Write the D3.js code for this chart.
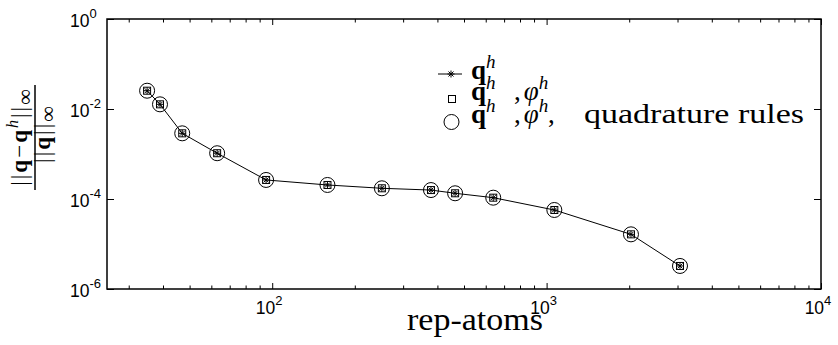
<!DOCTYPE html>
<html>
<head>
<meta charset="utf-8">
<script src="https://cdn.jsdelivr.net/npm/d3@7"></script>
<style>
body { margin: 0; background: #fff; }
</style>
</head>
<body>
<script>
// size variables
var width = 838, height = 345;
var plotL = 107, plotR = 821, plotT = 19, plotB = 289;

// data (the three series lie on top of each other)
var repAtoms = [35, 39, 47, 63, 95, 159, 251, 379, 464, 639, 1067, 2030, 3063];
var errQh      = [2.55e-2, 1.27e-2, 2.88e-3, 1.04e-3, 2.65e-4, 2.05e-4, 1.73e-4, 1.58e-4, 1.34e-4, 1.07e-4, 5.7e-5, 1.64e-5, 3.25e-6];
var errQhPhi   = [2.55e-2, 1.27e-2, 2.88e-3, 1.04e-3, 2.65e-4, 2.05e-4, 1.73e-4, 1.58e-4, 1.34e-4, 1.07e-4, 5.7e-5, 1.64e-5, 3.25e-6];
var errQuadRul = [2.55e-2, 1.27e-2, 2.88e-3, 1.04e-3, 2.65e-4, 2.05e-4, 1.73e-4, 1.58e-4, 1.34e-4, 1.07e-4, 5.7e-5, 1.64e-5, 3.25e-6];

// tick labels (exponents of 10)
var xTickExp = [2, 3, 4];
var yTickExp = [0, -2, -4, -6];

var serif = "'Liberation Serif', 'Times New Roman', Times, serif";
var sans = "'Liberation Sans', Arial, Helvetica, sans-serif";

// setup svg
var svg = d3.select('body').append('svg')
    .attr('width', width).attr('height', height)
    .style('background', '#fff');

var x = d3.scaleLog().domain([25, 10000]).range([plotL, plotR]);
var y = d3.scaleLog().domain([1e-6, 1]).range([plotB, plotT]);

// minor ticks for the log x axis
var xMinor = [];
[10, 100, 1000].forEach(function(dec) {
    for (var k = 2; k <= 9; k++) {
        var v = k * dec;
        if (v > 25 && v < 10000) xMinor.push(v);
    }
});
var xMajor = xTickExp.map(function(e) { return Math.pow(10, e); });
var yMajor = yTickExp.map(function(e) { return Math.pow(10, e); });

function tickAxis(axis, pos, vals, len) {
    var g = svg.append('g').attr('transform', pos)
        .call(axis.tickValues(vals).tickSizeInner(-len).tickSizeOuter(0).tickFormat(''));
    g.select('.domain').remove();
    g.selectAll('line').attr('stroke', '#000').attr('stroke-width', 1);
    return g;
}
tickAxis(d3.axisBottom(x), 'translate(0,' + plotB + ')', xMinor, 3.5);
tickAxis(d3.axisBottom(x), 'translate(0,' + plotB + ')', xMajor, 6);
tickAxis(d3.axisTop(x), 'translate(0,' + plotT + ')', xMinor, 3.5);
tickAxis(d3.axisTop(x), 'translate(0,' + plotT + ')', xMajor, 6);
tickAxis(d3.axisLeft(y), 'translate(' + plotL + ',0)', yMajor, 7);
tickAxis(d3.axisRight(y), 'translate(' + plotR + ',0)', yMajor, 7);

// box
svg.append('rect')
    .attr('x', plotL).attr('y', plotT)
    .attr('width', plotR - plotL).attr('height', plotB - plotT)
    .attr('fill', 'none').attr('stroke', '#000').attr('stroke-width', 1.5);

// tick labels
xTickExp.forEach(function(e) {
    var t = svg.append('text')
        .attr('x', x(Math.pow(10, e)) - 3).attr('y', plotB + 25)
        .attr('text-anchor', 'middle')
        .style('font-family', sans).style('font-size', '17.5px');
    t.append('tspan').text('10');
    t.append('tspan').attr('dy', -9).style('font-size', '13px').text(e);
});
yTickExp.forEach(function(e) {
    var t = svg.append('text')
        .attr('x', 70).attr('y', y(Math.pow(10, e)) + 7.5)
        .style('font-family', sans).style('font-size', '17.5px');
    t.append('tspan').text('10');
    t.append('tspan').attr('dy', -9).style('font-size', '13px').text(e < 0 ? '-' + (-e) : e);
});

// x label
svg.append('text')
    .attr('x', 475).attr('y', 330)
    .attr('text-anchor', 'middle')
    .attr('textLength', 136).attr('lengthAdjust', 'spacingAndGlyphs')
    .style('font-family', serif).style('font-size', '31px')
    .text('rep-atoms');

// y label: fraction, rotated
var yl = svg.append('g').attr('transform', 'translate(35,137) rotate(-90)');
var num = yl.append('text').attr('x', 0.5).attr('y', -8)
    .attr('text-anchor', 'middle')
    .style('font-family', serif).style('font-size', '23px');
num.append('tspan').text('||');
num.append('tspan').style('font-weight', 'bold').text('q');
num.append('tspan').text('\u2212');
num.append('tspan').style('font-weight', 'bold').text('q');
num.append('tspan').attr('dy', -9).style('font-style', 'italic').style('font-size', '16px').text('h');
num.append('tspan').attr('dy', 9).text('||');
num.append('tspan').attr('dy', 5).style('font-size', '22px').text('\u221e');
num.attr('letter-spacing', 2);
yl.append('line').attr('x1', -53).attr('x2', 52).attr('y1', 0).attr('y2', 0)
    .attr('stroke', '#000').attr('stroke-width', 1.5);
var den = yl.append('text').attr('x', 3.5).attr('y', 15)
    .attr('text-anchor', 'middle')
    .style('font-family', serif).style('font-size', '23px')
    .attr('letter-spacing', 2);
den.append('tspan').text('||');
den.append('tspan').style('font-weight', 'bold').text('q');
den.append('tspan').text('||');
den.append('tspan').attr('dy', 5).style('font-size', '22px').text('\u221e');

// markers
var star = 'M-3.5,0H3.5M0,-3.5V3.5M-2.5,-2.5L2.5,2.5M-2.5,2.5L2.5,-2.5';

var line = d3.line()
    .x(function(d, i) { return x(repAtoms[i]); })
    .y(function(d) { return y(d); });

svg.append('path').datum(errQh)
    .attr('d', line)
    .attr('fill', 'none').attr('stroke', '#000').attr('stroke-width', 1);

svg.selectAll('.star').data(errQh).join('path')
    .attr('class', 'star')
    .attr('transform', function(d, i) { return 'translate(' + x(repAtoms[i]) + ',' + y(d) + ')'; })
    .attr('d', star).attr('stroke', '#000').attr('stroke-width', 1).attr('fill', 'none');

svg.selectAll('.sq').data(errQhPhi).join('rect')
    .attr('class', 'sq')
    .attr('x', function(d, i) { return x(repAtoms[i]) - 3.5; })
    .attr('y', function(d) { return y(d) - 3.5; })
    .attr('width', 7).attr('height', 7)
    .attr('fill', 'none').attr('stroke', '#000').attr('stroke-width', 1);

svg.selectAll('.circ').data(errQuadRul).join('circle')
    .attr('class', 'circ')
    .attr('cx', function(d, i) { return x(repAtoms[i]); })
    .attr('cy', function(d) { return y(d); })
    .attr('r', 7.5)
    .attr('fill', 'none').attr('stroke', '#000').attr('stroke-width', 1);

// legend
var lg = svg.append('g');
lg.append('line').attr('x1', 438).attr('x2', 462).attr('y1', 74).attr('y2', 74)
    .attr('stroke', '#000').attr('stroke-width', 1);
lg.append('path').attr('transform', 'translate(451,74)').attr('d', star)
    .attr('stroke', '#000').attr('fill', 'none');
lg.append('rect').attr('x', 448.5).attr('y', 95.5).attr('width', 7).attr('height', 7)
    .attr('fill', 'none').attr('stroke', '#000');
lg.append('circle').attr('cx', 451.5).attr('cy', 122).attr('r', 7.5)
    .attr('fill', 'none').attr('stroke', '#000');

function qh(yb) {
    var t = lg.append('text').attr('x', 471).attr('y', yb)
        .style('font-family', serif).style('font-size', '27px');
    t.append('tspan').style('font-weight', 'bold').text('q');
    t.append('tspan').attr('dy', -11).style('font-style', 'italic').style('font-size', '19px').text('h');
}
function phih(yb) {
    var t = lg.append('text').attr('x', 514).attr('y', yb)
        .style('font-family', serif).style('font-size', '27px');
    t.append('tspan').text(',');
    t.append('tspan').attr('dx', 3).style('font-style', 'italic').text('\u03c6');
    t.append('tspan').attr('dy', -11).style('font-style', 'italic').style('font-size', '19px').text('h');
    return t;
}
qh(79);
qh(100); phih(100);
qh(123); phih(123);
lg.append('text').attr('x', 548).attr('y', 123)
    .style('font-family', serif).style('font-size', '27px')
    .text(',');
lg.append('text').attr('x', 584).attr('y', 123)
    .attr('textLength', 220).attr('lengthAdjust', 'spacingAndGlyphs')
    .style('font-family', serif).style('font-size', '27px')
    .text('quadrature rules');
</script>
</body>
</html>
